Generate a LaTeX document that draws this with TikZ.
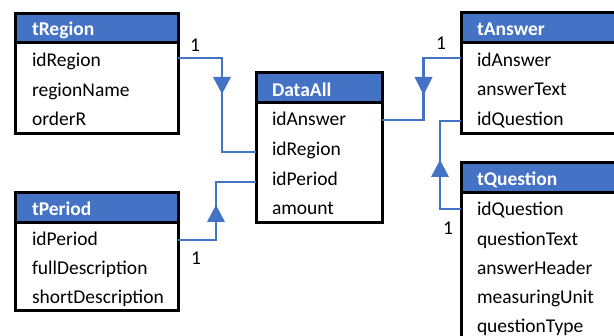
\documentclass[tikz,border=0pt]{standalone}
\usepackage{fontspec}
\setmainfont{Carlito}
\definecolor{hdrblue}{HTML}{4472C4}
\definecolor{linkblue}{HTML}{4472C4}
\begin{document}
\begin{tikzpicture}[x=1pt,y=-1pt,
  every node/.style={inner sep=0pt, outer sep=0pt},
  ent/.style={draw=black, line width=3pt, anchor=north west, rectangle},
  hdr/.style={fill=hdrblue, anchor=north west, rectangle},
  sep/.style={draw=black, line width=3pt},
  txt/.style={anchor=base west, font=\fontsize{19.5}{23}\selectfont, text=black},
  htxt/.style={anchor=base west, font=\fontsize{19.5}{23}\selectfont\bfseries, text=white},
  lbl/.style={font=\fontsize{19.5}{23}\selectfont, text=black},
  link/.style={draw=linkblue, line width=2.6pt},
  tri/.style={fill=linkblue}]
\fill[white] (0,0) rectangle (614,336);
\useasboundingbox (0,0) rectangle (614,336);

% ---------- tRegion ----------
\node[hdr, minimum width=163pt, minimum height=29pt] (tRegionH) at (15,14) {};
\node[ent, minimum width=163pt, minimum height=120pt] (tRegion) at (15,14) {};
\draw[sep] (15,43) -- (178,43);
\node[htxt] (tRegionT) at (32,36) {tRegion};
\node[txt] (rg1) at (32,67) {idRegion};
\node[txt] (rg2) at (32,96.5) {regionName};
\node[txt] (rg3) at (32,126) {orderR};

% ---------- tPeriod ----------
\node[hdr, minimum width=163pt, minimum height=30pt] (tPeriodH) at (15,193) {};
\node[ent, minimum width=163pt, minimum height=118pt] (tPeriod) at (15,193) {};
\draw[sep] (15,223) -- (178,223);
\node[htxt] (tPeriodT) at (32,216) {tPeriod};
\node[txt] (pe1) at (32,245.5) {idPeriod};
\node[txt] (pe2) at (32,275) {fullDescription};
\node[txt] (pe3) at (32,304) {shortDescription};

% ---------- DataAll ----------
\node[hdr, minimum width=126pt, minimum height=30pt] (DataAllH) at (256,73) {};
\node[ent, minimum width=126pt, minimum height=150pt] (DataAll) at (256,73) {};
\draw[sep] (256,103) -- (382,103);
\node[htxt] (DataAllT) at (272,96.5) {DataAll};
\node[txt] (da1) at (272,126) {idAnswer};
\node[txt] (da2) at (272,155.5) {idRegion};
\node[txt] (da3) at (272,185.5) {idPeriod};
\node[txt] (da4) at (272,215) {amount};

% ---------- tAnswer ----------
\node[hdr, minimum width=160pt, minimum height=30pt] (tAnswerH) at (461,13) {};
\node[ent, minimum width=160pt, minimum height=121pt] (tAnswer) at (461,13) {};
\draw[sep] (461,43) -- (621,43);
\node[htxt] (tAnswerT) at (477,36) {tAnswer};
\node[txt] (an1) at (477,66.5) {idAnswer};
\node[txt] (an2) at (477,96) {answerText};
\node[txt] (an3) at (477,126) {idQuestion};

% ---------- tQuestion ----------
\node[hdr, minimum width=160pt, minimum height=30pt] (tQuestionH) at (461,163) {};
\node[ent, minimum width=160pt, minimum height=185pt] (tQuestion) at (461,163) {};
\draw[sep] (461,193) -- (621,193);
\node[htxt] (tQuestionT) at (477,186) {tQuestion};
\node[txt] (qu1) at (477,215.5) {idQuestion};
\node[txt] (qu2) at (477,245.5) {questionText};
\node[txt] (qu3) at (477,275) {answerHeader};
\node[txt] (qu4) at (477,304) {measuringUnit};
\node[txt] (qu5) at (477,333) {questionType};

% ---------- connectors ----------
\coordinate (c1a) at (178,58);
\coordinate (c1b) at (256,152);
\draw[link] (c1a) -| (222,152) -- (c1b);
\fill[tri] (213,77) -- (231,77) -- (222,94) -- cycle;
\node[lbl] (l1) at (195,45) {1};

\coordinate (c2a) at (178,240);
\coordinate (c2b) at (256,182);
\draw[link] (c2a) -| (216,182) -- (c2b);
\fill[tri] (207,222) -- (225,222) -- (216,205) -- cycle;
\node[lbl] (l2) at (196,258) {1};

\coordinate (c3a) at (382,120);
\coordinate (c3b) at (461,58);
\draw[link] (c3a) -| (423.5,58) -- (c3b);
\fill[tri] (414.5,77) -- (432.5,77) -- (423.5,95) -- cycle;
\node[lbl] (l3) at (441,43) {1};

\coordinate (c4a) at (461,121);
\coordinate (c4b) at (461,209);
\draw[link] (c4a) -| (440,209) -- (c4b);
\fill[tri] (431,177) -- (449,177) -- (440,160) -- cycle;
\node[lbl] (l4) at (448,228) {1};
\end{tikzpicture}
\end{document}
